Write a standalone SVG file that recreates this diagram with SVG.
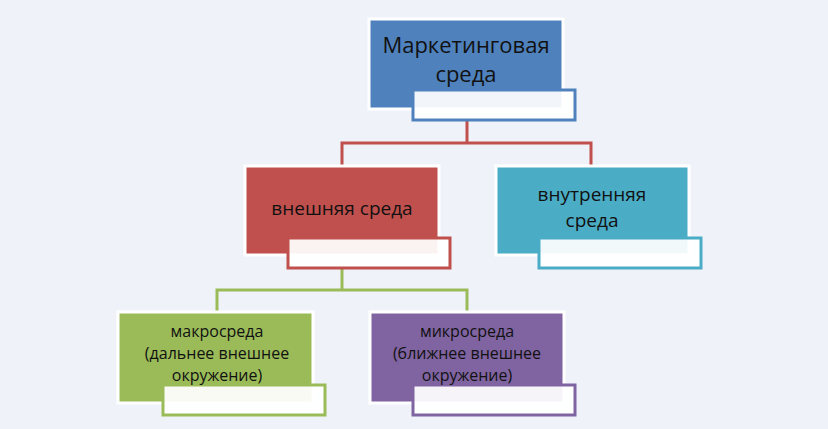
<svg xmlns="http://www.w3.org/2000/svg" width="828" height="429" viewBox="0 0 828 429">
<style>
.box{stroke:#fff;stroke-width:3}
.ov{fill:#fff;fill-opacity:0.93;stroke-width:3}
text{font-family:"Open Sans","Liberation Sans",sans-serif;fill:#111;text-anchor:middle}
.con{fill:none;stroke-width:3}
</style>
<rect width="828" height="429" fill="#eff3f9"/>
<g id="connectors">
<path class="con" stroke="#c0504d" d="M467 121V143H342V166M467 143H591V166"/>
<path class="con" stroke="#9bbb59" d="M342 268V290H217V312M342 290H467V312"/>
</g>
<g id="n1">
<rect class="box" x="369" y="19" width="194" height="90" fill="#4f81bd"/>
<rect class="ov" x="413" y="90" width="162" height="30" stroke="#4f81bd"/>
<text x="466" y="53" font-size="22">Маркетинговая</text>
<text x="466" y="82" font-size="22">среда</text>
</g>
<g id="n2">
<rect class="box" x="245" y="166" width="194" height="89" fill="#c0504d"/>
<rect class="ov" x="288" y="238" width="162" height="30" stroke="#c0504d"/>
<text x="342" y="215" font-size="19">внешняя среда</text>
</g>
<g id="n3">
<rect class="box" x="496" y="166" width="193" height="89" fill="#4bacc6"/>
<rect class="ov" x="539" y="238" width="162" height="30" stroke="#4bacc6"/>
<text x="592" y="201" font-size="19">внутренняя</text>
<text x="592" y="227" font-size="19">среда</text>
</g>
<g id="n4">
<rect class="box" x="118" y="312" width="195" height="91" fill="#9bbb59"/>
<rect class="ov" x="163" y="385" width="162" height="30" stroke="#9bbb59"/>
<text x="217" y="337" font-size="16">макросреда</text>
<text x="217" y="359" font-size="16">(дальнее внешнее</text>
<text x="217" y="381" font-size="16">окружение)</text>
</g>
<g id="n5">
<rect class="box" x="370" y="312" width="194" height="91" fill="#8064a2"/>
<rect class="ov" x="413" y="385" width="162" height="30" stroke="#8064a2"/>
<text x="467" y="337" font-size="16">микросреда</text>
<text x="467" y="359" font-size="16">(ближнее внешнее</text>
<text x="467" y="381" font-size="16">окружение)</text>
</g>
</svg>
